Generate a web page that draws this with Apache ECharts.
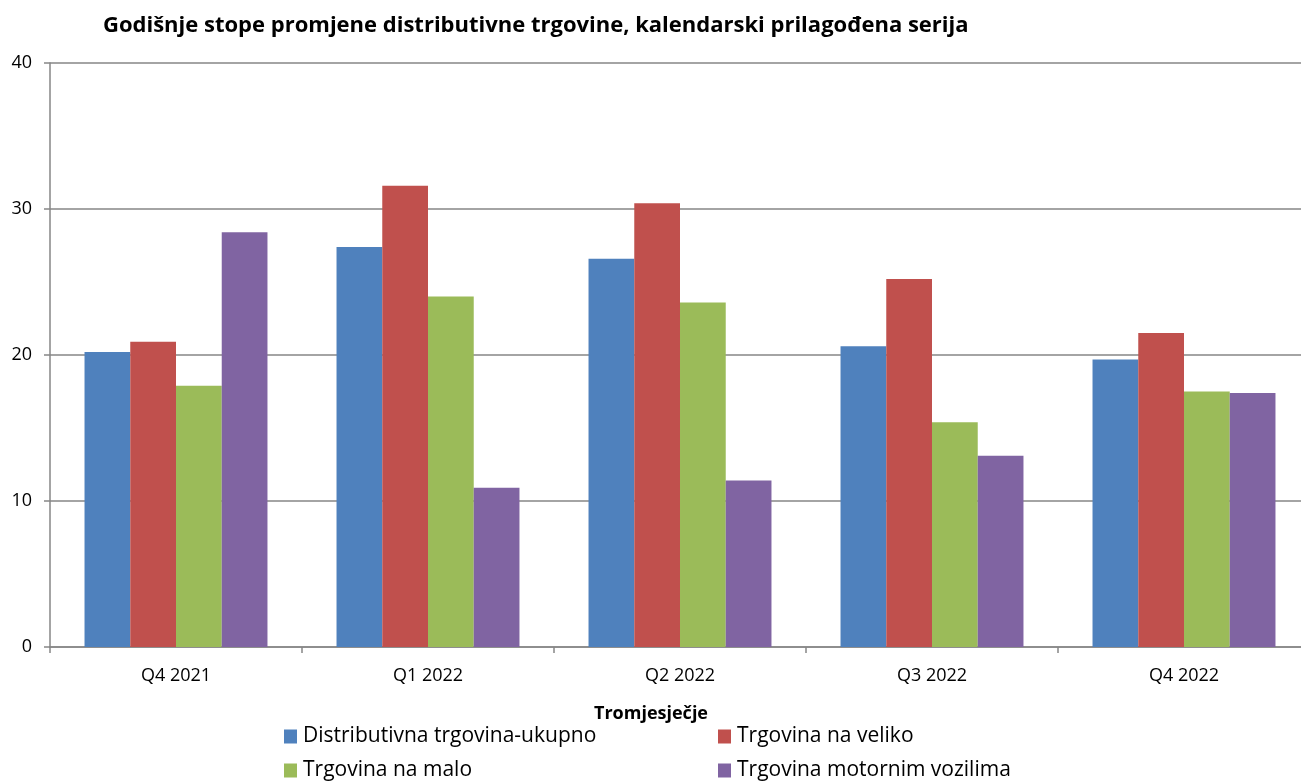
<!DOCTYPE html>
<html>
<head>
    <meta charset="utf-8"/>
    <title>Godišnje stope promjene distributivne trgovine</title>
    <script src="https://cdn.jsdelivr.net/npm/echarts@6/dist/echarts.min.js"></script>
</head>
<body style="margin:0;overflow:hidden">
<div id="main" style="width:1310px;height:781px"></div>
<script type="text/javascript">
    var quarters = ['Q4 2021', 'Q1 2022', 'Q2 2022', 'Q3 2022', 'Q4 2022'];
    var ukupno = [20.2, 27.4, 26.6, 20.6, 19.7];
    var naVeliko = [20.9, 31.6, 30.4, 25.2, 21.5];
    var naMalo = [17.9, 24.0, 23.6, 15.4, 17.5];
    var motornim = [28.4, 10.9, 11.4, 13.1, 17.4];
    var seriesNames = ['Distributivna trgovina-ukupno', 'Trgovina na veliko', 'Trgovina na malo', 'Trgovina motornim vozilima'];

    var font = 'Open Sans, Noto Sans, sans-serif';
    var gridColor = '#868686';

    // one legend per item so each sits where it does in the picture
    var legendPos = [[284, 726], [718, 726], [284, 760], [718, 760]];
    var legends = seriesNames.map(function (n, i) {
        return {
            left: legendPos[i][0],
            top: legendPos[i][1],
            padding: 0,
            itemWidth: 13,
            itemHeight: 14,
            icon: 'rect',
            textStyle: {fontFamily: font, fontSize: 21, color: '#000', padding: [0, 0, 0, 1]},
            data: [n]
        };
    });

    var chart = echarts.init(document.getElementById('main'));
    chart.setOption({
        animation: false,
        color: ['#4F81BD', '#C0504D', '#9BBB59', '#8064A2'],
        title: [{
            text: 'Godišnje stope promjene distributivne trgovine, kalendarski prilagođena serija',
            left: 98,
            top: 10,
            textStyle: {fontFamily: font, fontSize: 22, fontWeight: 'bold', color: '#000'}
        }, {
            text: 'Tromjesječje',
            left: 594,
            top: 705,
            padding: 0,
            textStyle: {fontFamily: font, fontSize: 18, fontWeight: 'bold', color: '#000'}
        }],
        legend: legends,
        grid: {left: 50, top: 63, right: 0, height: 584},
        xAxis: {
            type: 'category',
            data: quarters,
            axisLine: {lineStyle: {color: gridColor, width: 1.5}},
            axisTick: {show: true, length: 6, lineStyle: {color: gridColor, width: 1.5}},
            axisLabel: {fontFamily: font, fontSize: 18, color: '#000', margin: 20}
        },
        yAxis: {
            type: 'value',
            min: 0,
            max: 40,
            interval: 10,
            axisLine: {show: true, lineStyle: {color: gridColor, width: 1.5}},
            axisTick: {show: true, length: 6, lineStyle: {color: gridColor, width: 1.5}},
            axisLabel: {fontFamily: font, fontSize: 18, color: '#000', margin: 18},
            splitLine: {lineStyle: {color: gridColor, width: 1.5}}
        },
        series: [
            {name: seriesNames[0], type: 'bar', data: ukupno, barGap: '0%', barCategoryGap: '27.4%'},
            {name: seriesNames[1], type: 'bar', data: naVeliko, barGap: '0%', barCategoryGap: '27.4%'},
            {name: seriesNames[2], type: 'bar', data: naMalo, barGap: '0%', barCategoryGap: '27.4%'},
            {name: seriesNames[3], type: 'bar', data: motornim, barGap: '0%', barCategoryGap: '27.4%'}
        ]
    });
</script>
</body>
</html>
